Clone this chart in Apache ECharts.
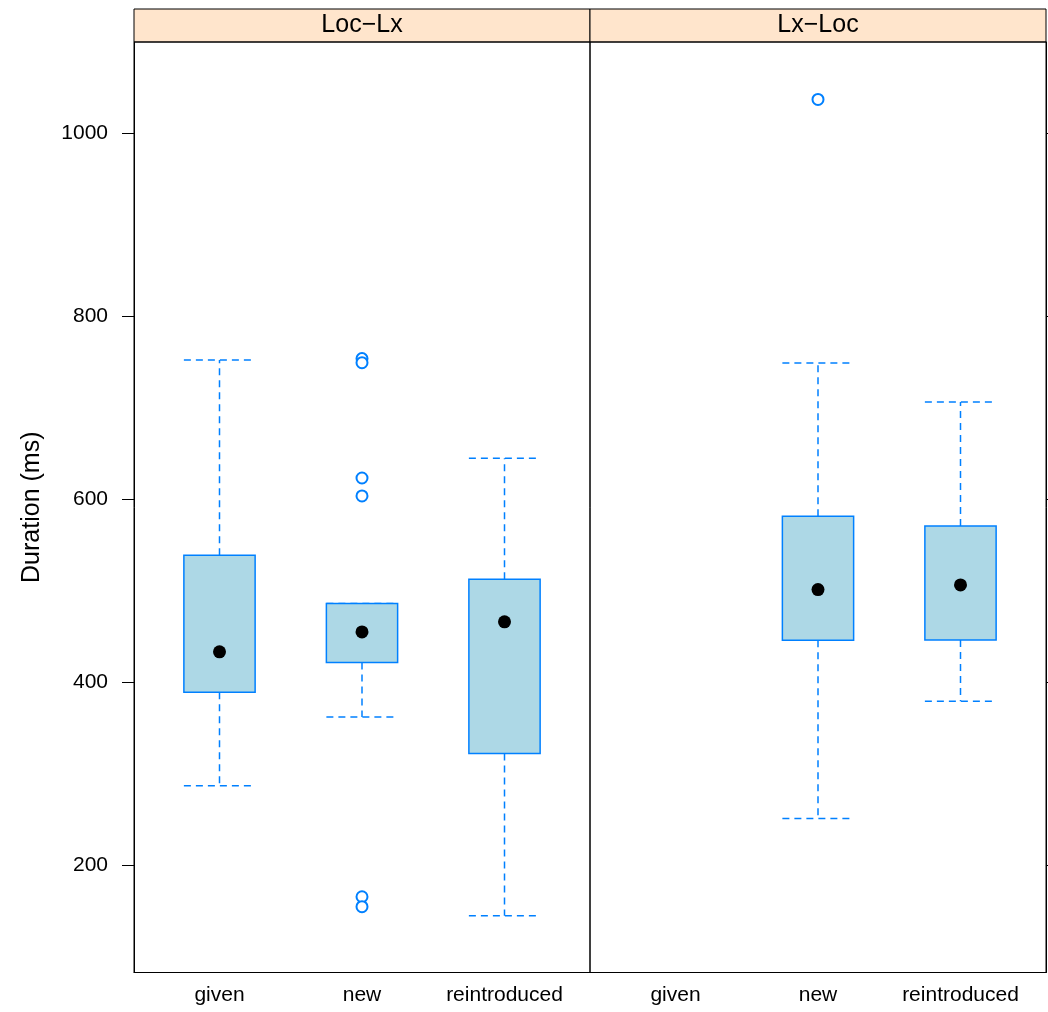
<!DOCTYPE html>
<html>
<head>
<meta charset="utf-8">
<script src="https://cdn.jsdelivr.net/npm/echarts@6/dist/echarts.min.js"></script>
<style>
  html, body { margin: 0; padding: 0; background: #fff; }
  #chart { width: 1048px; height: 1012px; }
</style>
</head>
<body>
<div id="chart"></div>
<script>
// ---- data ----
const categories = ['given', 'new', 'reintroduced'];
const panelNames = ['Loc\u2212Lx', 'Lx\u2212Loc'];
const yTicks = [200, 400, 600, 800, 1000];
// [lower whisker, Q1, median, Q3, upper whisker] per category (null = no data)
const locLxStats = [
  [286.6, 389.0, 433.0, 538.6, 752.0],
  [361.7, 421.4, 454.8, 485.8, 485.8],
  [144.6, 322.0, 465.8, 512.4, 644.6]
];
const lxLocStats = [
  null,
  [251.0, 445.8, 501.1, 581.2, 748.7],
  [379.0, 446.1, 506.2, 570.6, 706.0]
];
// outliers: [category index (1-based), value]
const locLxOutliers = [[2, 753.5], [2, 749.0], [2, 623.0], [2, 603.4], [2, 165.4], [2, 154.5]];
const lxLocOutliers = [[2, 1036.7]];

// ---- styles ----
const BLUE = '#0080ff';
const FILL = '#ADD8E6';
const FONT = '"Liberation Sans", Arial, Helvetica, sans-serif';

function boxData(stats) {
  const out = [];
  stats.forEach((s, i) => { if (s) out.push([i + 1].concat(s)); });
  return out;
}

function renderBox(params, api) {
  const x = api.value(0);
  const pLow = api.coord([x, api.value(1)]);
  const pQ1 = api.coord([x, api.value(2)]);
  const pMed = api.coord([x, api.value(3)]);
  const pQ3 = api.coord([x, api.value(4)]);
  const pHigh = api.coord([x, api.value(5)]);
  const w = api.size([0.5, 0])[0];
  const cx = pMed[0];
  const dash = { stroke: BLUE, lineWidth: 1.5, lineDash: [7, 5], fill: null };
  return {
    type: 'group',
    children: [
      { type: 'line', shape: { x1: cx, y1: pQ3[1], x2: cx, y2: pHigh[1] }, style: dash },
      { type: 'line', shape: { x1: cx - w / 2, y1: pHigh[1], x2: cx + w / 2, y2: pHigh[1] }, style: dash },
      { type: 'line', shape: { x1: cx, y1: pQ1[1], x2: cx, y2: pLow[1] }, style: dash },
      { type: 'line', shape: { x1: cx - w / 2, y1: pLow[1], x2: cx + w / 2, y2: pLow[1] }, style: dash },
      { type: 'rect', shape: { x: cx - w / 2, y: pQ3[1], width: w, height: pQ1[1] - pQ3[1] },
        style: { fill: FILL, stroke: BLUE, lineWidth: 1.5 } },
      { type: 'circle', shape: { cx: cx, cy: pMed[1], r: 6.5 }, style: { fill: '#000' } }
    ]
  };
}

const grids = [
  { left: 134, top: 42, width: 456, height: 930.5 },
  { left: 590, top: 42, width: 456, height: 930.5 }
];

function xAxisFor(idx) {
  return {
    type: 'value', gridIndex: idx, min: 0.4, max: 3.6,
    axisLine: { show: true, onZero: false, lineStyle: { color: '#000', width: 1 } },
    axisTick: { show: false },
    splitLine: { show: false },
    axisLabel: {
      customValues: [1, 2, 3],
      formatter: v => categories[Math.round(v) - 1],
      color: '#000', fontSize: 21, fontFamily: FONT, margin: 12
    }
  };
}

function yAxisFor(idx) {
  const left = idx === 0;
  return {
    type: 'value', gridIndex: idx, min: 82.6, max: 1099.5,
    position: left ? 'left' : 'right',
    name: left ? 'Duration (ms)' : '',
    nameLocation: 'middle', nameGap: 89,
    nameTextStyle: { color: '#000', fontSize: 25, fontFamily: FONT },
    axisLine: { show: true, lineStyle: { color: '#000', width: 1 } },
    axisTick: { show: true, inside: false, length: 12, customValues: yTicks, lineStyle: { color: '#000', width: 1 } },
    splitLine: { show: false },
    axisLabel: {
      show: left, customValues: yTicks, margin: 26,
      formatter: v => String(Math.round(v)),
      color: '#000', fontSize: 21, fontFamily: FONT
    }
  };
}

const graphics = [];
grids.forEach((g, i) => {
  graphics.push({
    type: 'rect', shape: { x: g.left, y: 9, width: g.width, height: 33 },
    style: { fill: '#ffe5cc', stroke: '#000', lineWidth: 1 }, z: 10
  });
  graphics.push({
    type: 'text', x: g.left + g.width / 2, y: 25.5,
    style: { text: panelNames[i], fill: '#000', fontSize: 25, fontFamily: FONT, align: 'center', verticalAlign: 'middle' },
    z: 11
  });
  graphics.push({
    type: 'rect', shape: { x: g.left, y: g.top, width: g.width, height: g.height },
    style: { fill: null, stroke: '#000', lineWidth: 1 }, z: 12, silent: true
  });
});

const outlierStyle = { color: BLUE, borderColor: BLUE, borderWidth: 1.6, opacity: 1 };

const option = {
  backgroundColor: '#fff',
  animation: false,
  grid: grids,
  xAxis: [xAxisFor(0), xAxisFor(1)],
  yAxis: [yAxisFor(0), yAxisFor(1)],
  graphic: graphics,
  series: [
    { type: 'custom', xAxisIndex: 0, yAxisIndex: 0, renderItem: renderBox,
      encode: { x: 0, y: [1, 2, 3, 4, 5] }, data: boxData(locLxStats) },
    { type: 'custom', xAxisIndex: 1, yAxisIndex: 1, renderItem: renderBox,
      encode: { x: 0, y: [1, 2, 3, 4, 5] }, data: boxData(lxLocStats) },
    { type: 'scatter', xAxisIndex: 0, yAxisIndex: 0, symbol: 'emptyCircle', symbolSize: 11,
      itemStyle: outlierStyle, data: locLxOutliers, z: 5 },
    { type: 'scatter', xAxisIndex: 1, yAxisIndex: 1, symbol: 'emptyCircle', symbolSize: 11,
      itemStyle: outlierStyle, data: lxLocOutliers, z: 5 }
  ]
};

const chart = echarts.init(document.getElementById('chart'), null, { renderer: 'canvas' });
chart.setOption(option);
</script>
</body>
</html>
